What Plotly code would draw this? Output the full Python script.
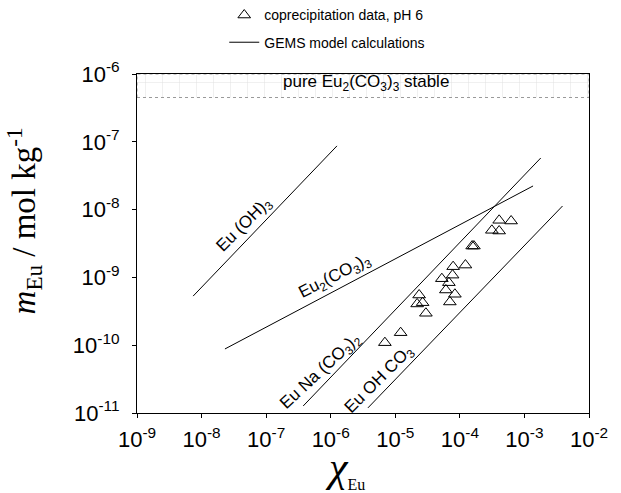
import plotly.graph_objects as go

# ---- data ----
# coprecipitation data, pH 6
data_x = [6.90e-6, 1.21e-5, 2.34e-5, 2.18e-5, 2.65e-5, 2.98e-5, 5.26e-5, 6.76e-5, 6.07e-5, 7.00e-5,
          8.38e-5, 7.71e-5, 7.87e-5, 1.22e-4, 1.55e-4, 1.65e-4, 3.13e-4, 4.06e-4, 4.06e-4, 6.22e-4]
data_y = [1.09e-10, 1.53e-10, 5.50e-10, 4.06e-10, 4.24e-10, 2.96e-10, 9.57e-10, 8.36e-10, 6.52e-10, 4.34e-10,
          5.64e-10, 1.08e-9, 1.44e-9, 1.52e-9, 2.90e-9, 2.90e-9, 4.95e-9, 6.95e-9, 4.83e-9, 6.79e-9]

# GEMS model calculations (end points of each line)
euoh3_x = [7.4e-9, 1.25e-6]
euoh3_y = [5.3e-10, 8.7e-8]
eu2co3_x = [2.3e-8, 1.36e-3]
eu2co3_y = [8.8e-11, 2.23e-8]
eunaco3_x = [3.75e-7, 1.79e-3]
eunaco3_y = [1.27e-11, 5.77e-8]
euohco3_x = [3.77e-6, 3.89e-3]
euohco3_y = [1.19e-11, 1.13e-8]

# stability band of pure Eu2(CO3)3
band_x = [1e-9, 1e-2]
band_y = [4.5e-7, 1e-6]

# axis ticks
x_tickvals = [1e-9, 1e-8, 1e-7, 1e-6, 1e-5, 1e-4, 1e-3, 1e-2]
x_ticktext = ["10<sup>-9</sup>", "10<sup>-8</sup>", "10<sup>-7</sup>", "10<sup>-6</sup>",
              "10<sup>-5</sup>", "10<sup>-4</sup>", "10<sup>-3</sup>", "10<sup>-2</sup>"]
y_tickvals = [1e-11, 1e-10, 1e-9, 1e-8, 1e-7, 1e-6]
y_ticktext = ["10<sup>-11</sup>", "10<sup>-10</sup>", "10<sup>-9</sup>", "10<sup>-8</sup>",
              "10<sup>-7</sup>", "10<sup>-6</sup>"]

x_range_log = [-9, -2]
y_range_log = [-11, -6]

fig = go.Figure()

# band
fig.add_trace(go.Scatter(
    x=[band_x[0], band_x[1], band_x[1], band_x[0], band_x[0]],
    y=[band_y[0], band_y[0], band_y[1], band_y[1], band_y[0]],
    mode="lines", fill="toself", fillcolor="white",
    fillpattern=dict(shape="+", fgcolor="#c4c4c4", bgcolor="white", size=17, solidity=0.06),
    line=dict(color="#9a9a9a", width=1, dash="dot"),
    showlegend=False, hoverinfo="skip"))

line_style = dict(color="black", width=1)
series = [(euoh3_x, euoh3_y), (eu2co3_x, eu2co3_y), (eunaco3_x, eunaco3_y), (euohco3_x, euohco3_y)]
for i, (sx, sy) in enumerate(series):
    fig.add_trace(go.Scatter(
        x=sx, y=sy, mode="lines", line=line_style,
        name="GEMS model calculations", legendgroup="gems", legendrank=2,
        showlegend=(i == 0)))

fig.add_trace(go.Scatter(
    x=data_x, y=data_y, mode="markers",
    marker=dict(symbol="triangle-up-open", size=11, color="black", line=dict(width=1, color="black")),
    name="coprecipitation data, pH 6", legendgroup="data", legendrank=1))

lab_font = dict(family="Liberation Sans, Arial, sans-serif", size=17, color="black")
annotations = [
    dict(x=-7.33, y=-8.23, text="Eu (OH)<sub>3</sub>", textangle=-45),
    dict(x=-5.935, y=-8.99, text="Eu<sub>2</sub>(CO<sub>3</sub>)<sub>3</sub>", textangle=-27),
    dict(x=-6.15, y=-10.40, text="Eu Na (CO<sub>3</sub>)<sub>2</sub>", textangle=-43),
    dict(x=-5.24, y=-10.52, text="Eu OH CO<sub>3</sub>", textangle=-45),
    dict(x=-5.45, y=-6.135, text="pure Eu<sub>2</sub>(CO<sub>3</sub>)<sub>3</sub> stable", textangle=0),
]
for a in annotations:
    a.update(xref="x", yref="y", showarrow=False, font=lab_font)

serif = "Liberation Serif, Times New Roman, serif"
# axis titles
annotations.append(dict(
    xref="paper", yref="paper", x=-0.25, y=0.565, xanchor="center", yanchor="middle",
    text="<i>m</i><sub>Eu</sub> / mol kg<sup>-1</sup>", textangle=-90, showarrow=False,
    font=dict(family=serif, size=33, color="black")))
annotations.append(dict(
    xref="paper", yref="paper", x=0.46, y=-0.163, xanchor="center", yanchor="middle",
    text="<i>χ</i><sub><span style='font-size:16px'>Eu</span></sub>", showarrow=False,
    font=dict(family=serif, size=42, color="black")))

axis_common = dict(
    type="log", showgrid=False, zeroline=False,
    showline=True, linecolor="black", linewidth=1, mirror=True,
    ticks="outside", ticklen=4, tickcolor="black",
    tickfont=dict(family="Liberation Sans, Arial, sans-serif", size=22, color="black"),
)

fig.update_layout(
    width=621, height=493,
    margin=dict(l=137, r=32, t=74, b=80, autoexpand=False),
    paper_bgcolor="white", plot_bgcolor="white",
    xaxis=dict(axis_common, range=x_range_log, tickvals=x_tickvals, ticktext=x_ticktext,
               ticklabelstandoff=3),
    yaxis=dict(axis_common, range=y_range_log, tickvals=y_tickvals, ticktext=y_ticktext,
               ticklabelstandoff=8),
    legend=dict(x=0.193, y=1.22, xanchor="left", yanchor="top",
                font=dict(family="Liberation Sans, Arial, sans-serif", size=14, color="black"),
                bgcolor="rgba(0,0,0,0)", tracegroupgap=6),
    annotations=annotations,
    showlegend=True,
)

fig.write_html("out.html", config={"displayModeBar": False},
               post_script="document.body.style.margin='0';document.body.style.overflow='hidden';")
